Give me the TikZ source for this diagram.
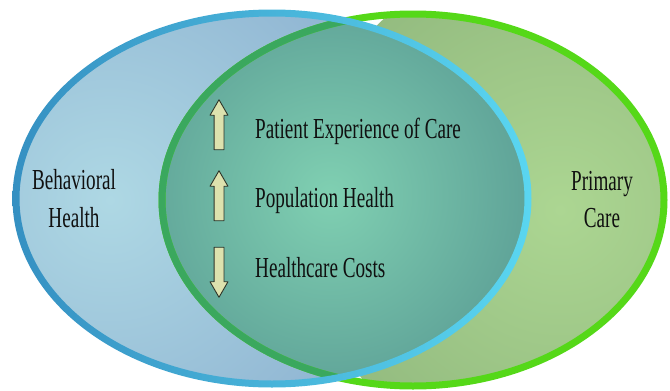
\documentclass[tikz,border=0pt]{standalone}
\usepackage{graphicx}
\usepackage{fontspec}
\setmainfont{Liberation Serif}
\usetikzlibrary{shapes.arrows}
\definecolor{bluefill}{HTML}{8FB4D2}
\definecolor{bluelite}{HTML}{AED8E4}
\definecolor{bluering}{HTML}{5AD6F0}
\definecolor{bluedark}{HTML}{3590C2}
\definecolor{greenfill}{HTML}{94BC80}
\definecolor{greenlite}{HTML}{ACD692}
\definecolor{greenring}{HTML}{55D818}
\definecolor{greendark}{HTML}{3AA85E}
\definecolor{tealfill}{HTML}{5A9C94}
\definecolor{teallite}{HTML}{80D0B2}
\definecolor{arrowfill}{HTML}{DDE2AE}
\definecolor{arrowline}{HTML}{2E3428}
\definecolor{txt}{HTML}{101010}
\newcommand{\narrow}[1]{\scalebox{0.66}[1]{#1}}
\tikzset{
  lbl/.style={font=\fontsize{29}{38}\selectfont, text=txt, inner sep=0pt},
  ring/.style={line width=7pt},
  dart/.style={single arrow, draw=arrowline, fill=arrowfill, line width=0.9pt,
    inner sep=4.5pt, minimum height=50pt, single arrow head extend=4pt,
    single arrow tip angle=60}
}
\begin{document}
\begin{tikzpicture}[x=1pt, y=-1pt, line join=round]
  \useasboundingbox (0,0) rectangle (670,391);
  \def\brx{256}\def\bry{185.5}
  \def\grx{251}\def\gry{186}
  \coordinate (bc) at (272,198.5);
  \coordinate (gc) at (413,200);
  % fills
  \begin{scope}
    \clip (bc) ellipse [x radius=\brx, y radius=\bry];
    \shade[inner color=bluelite, outer color=bluefill] (110,200) circle (300);
  \end{scope}
  \begin{scope}
    \clip (gc) ellipse [x radius=\grx, y radius=\gry];
    \shade[inner color=greenlite, outer color=greenfill] (560,210) circle (260);
  \end{scope}
  \begin{scope}
    \clip (bc) ellipse [x radius=\brx, y radius=\bry];
    \clip (gc) ellipse [x radius=\grx, y radius=\gry];
    \shade[inner color=teallite, outer color=tealfill] (330,195) circle (230);
  \end{scope}
  % rings
  \draw[ring, draw=greenring] (gc) ellipse [x radius=\grx, y radius=\gry];
  \begin{scope}
    \clip (bc) ellipse [x radius=\brx, y radius=\bry];
    \draw[ring, draw=greendark] (gc) ellipse [x radius=\grx, y radius=\gry];
  \end{scope}
  \shade[even odd rule, left color=bluedark, right color=bluering]
    (bc) ellipse [x radius=\brx+3.5, y radius=\bry+3.5]
    (bc) ellipse [x radius=\brx-3.5, y radius=\bry-3.5];
  % labels
  \node[lbl, anchor=base] (beh) at (74,189) {\narrow{Behavioral}};
  \node[lbl, anchor=base] (bhl) at (74,227) {\narrow{Health}};
  \node[lbl, anchor=base] (pri) at (602,190) {\narrow{Primary}};
  \node[lbl, anchor=base] (car) at (602,227) {\narrow{Care}};
  \node[lbl, anchor=base west] (pex) at (255,138) {\narrow{Patient Experience of Care}};
  \node[lbl, anchor=base west] (pop) at (255,207) {\narrow{Population Health}};
  \node[lbl, anchor=base west] (hcc) at (255,277) {\narrow{Healthcare Costs}};
  % arrows
  \node[dart, rotate=90] (up1) at (219,129) {};
  \node[dart, rotate=90] (up2) at (219,200) {};
  \node[dart, rotate=-90] (dn) at (219,268) {};
\end{tikzpicture}
\end{document}
